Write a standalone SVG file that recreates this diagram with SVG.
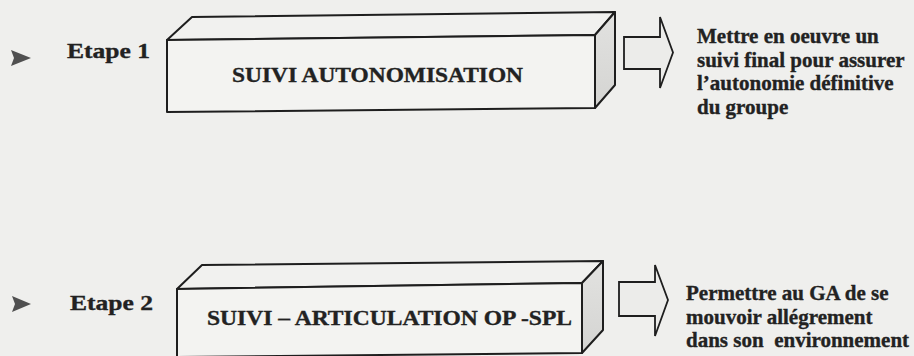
<svg xmlns="http://www.w3.org/2000/svg" width="914" height="356" viewBox="0 0 914 356">
  <style>
    .bg { fill: #efefed; }
    .front { fill: #f3f3f1; stroke: #1e1e1e; stroke-width: 2; stroke-linejoin: round; }
    .top { fill: #f1f1ef; stroke: #1e1e1e; stroke-width: 2; stroke-linejoin: round; }
    .side { fill: url(#sideShade); stroke: #1e1e1e; stroke-width: 2; stroke-linejoin: round; }
    .blockArrow { fill: #ececea; stroke: #1e1e1e; stroke-width: 1.8; stroke-linejoin: miter; }
    .bullet { fill: #505050; }
    text { font-family: 'Liberation Serif', 'Times New Roman', serif; font-weight: bold; fill: #222222; stroke: #222222; stroke-width: 0.35; }
    .step { font-size: 22px; }
    .title { font-size: 21px; }
    .desc { font-size: 21px; }
  </style>
  <defs>
    <linearGradient id="sideShade" x1="0" y1="0" x2="0" y2="1">
      <stop offset="0" stop-color="#e2e2e0"/>
      <stop offset="1" stop-color="#d4d4d2"/>
    </linearGradient>
  </defs>

  <rect class="bg" x="0" y="0" width="914" height="356"/>

  <!-- Step 1 -->
  <g id="etape1">
    <polygon class="bullet" points="11,50 31,58 11,66 14,58"/>
    <text class="step" x="67" y="58" textLength="83" lengthAdjust="spacingAndGlyphs">Etape 1</text>
  </g>

  <g id="suivi-autonomisation">
    <polygon class="top" points="167,40 192,17 615,12 595,35"/>
    <polygon class="side" points="595,35 615,12 615,85 595,108"/>
    <polygon class="front" points="167,40 595,35 595,108 167,112"/>
    <text class="title" x="232" y="82" textLength="291" lengthAdjust="spacingAndGlyphs">SUIVI AUTONOMISATION</text>
  </g>

  <g id="objectif1">
    <text class="desc" x="697" y="43">Mettre en oeuvre un</text>
    <text class="desc" x="697" y="66.5">suivi final pour assurer</text>
    <text class="desc" x="697" y="90">l’autonomie définitive</text>
    <text class="desc" x="697" y="113.5">du groupe</text>
  </g>

  <!-- Step 2 -->
  <g id="etape2">
    <polygon class="bullet" points="12,296 31,304 12,312 15,304"/>
    <text class="step" x="70" y="310" textLength="83" lengthAdjust="spacingAndGlyphs">Etape 2</text>
  </g>

  <g id="suivi-articulation">
    <polygon class="top" points="177,289 202,265 603,261 582,283"/>
    <polygon class="side" points="582,283 603,261 603,330 582,353"/>
    <polygon class="front" points="177,289 582,283 582,353 177,357"/>
    <text class="title" x="207" y="325" textLength="365" lengthAdjust="spacingAndGlyphs">SUIVI – ARTICULATION OP -SPL</text>
  </g>

  <g id="objectif2">
    <text class="desc" x="686" y="300">Permettre au GA de se</text>
    <text class="desc" x="686" y="323.5">mouvoir allégrement</text>
    <text class="desc" x="686" y="347" xml:space="preserve">dans son  environnement</text>
  </g>

  <!-- Block arrows leading from each stage to its objective -->
  <g id="connectors">
    <polygon class="blockArrow" points="624,37 660,37 660,17 673,52.5 660,88 660,69 624,69"/>
    <polygon class="blockArrow" points="619,282 655,282 655,265 668,300 655,336 655,316 619,316"/>
  </g>
</svg>
